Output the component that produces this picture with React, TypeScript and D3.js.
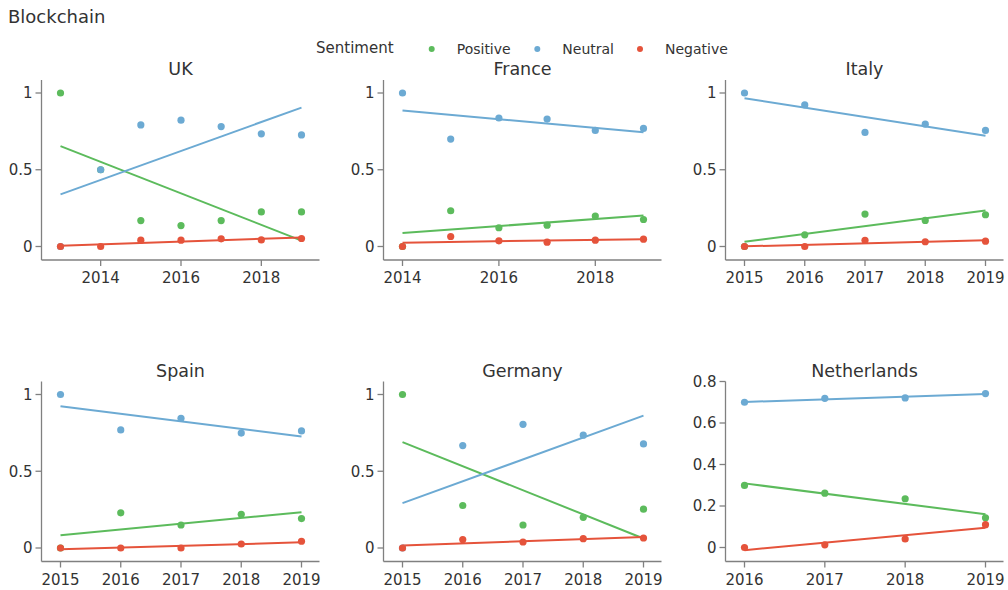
import React from 'react';
import * as d3 from 'd3';

// sentiment shares per year
const sentiments = ['Positive', 'Neutral', 'Negative'];
const sentimentColors = ['#5cbb5c', '#6caad3', '#e5533b'];

const ukYears = [2013, 2014, 2015, 2016, 2017, 2018, 2019];
const ukPositive = [1.0, 0.5, 0.169, 0.136, 0.169, 0.225, 0.225];
const ukNeutral = [0, 0.5, 0.792, 0.823, 0.781, 0.734, 0.727];
const ukNegative = [0, 0, 0.041, 0.041, 0.05, 0.043, 0.052];

const franceYears = [2014, 2015, 2016, 2017, 2018, 2019];
const francePositive = [0, 0.233, 0.122, 0.139, 0.198, 0.176];
const franceNeutral = [1.0, 0.7, 0.837, 0.83, 0.756, 0.769];
const franceNegative = [0, 0.065, 0.037, 0.028, 0.041, 0.048];

const italyYears = [2015, 2016, 2017, 2018, 2019];
const italyPositive = [0, 0.076, 0.211, 0.17, 0.207];
const italyNeutral = [1.0, 0.922, 0.743, 0.797, 0.756];
const italyNegative = [0, 0, 0.04, 0.031, 0.035];

const spainYears = [2015, 2016, 2017, 2018, 2019];
const spainPositive = [0, 0.229, 0.15, 0.22, 0.192];
const spainNeutral = [1.0, 0.769, 0.845, 0.749, 0.763];
const spainNegative = [0, 0, 0, 0.026, 0.044];

const germanyYears = [2015, 2016, 2017, 2018, 2019];
const germanyPositive = [1.0, 0.277, 0.15, 0.2, 0.253];
const germanyNeutral = [0, 0.667, 0.806, 0.735, 0.678];
const germanyNegative = [0, 0.055, 0.039, 0.061, 0.065];

const netherlandsYears = [2016, 2017, 2018, 2019];
const netherlandsPositive = [0.299, 0.262, 0.235, 0.143];
const netherlandsNeutral = [0.7, 0.719, 0.721, 0.742];
const netherlandsNegative = [0, 0.013, 0.041, 0.11];

const yTicksUnit = [0, 0.5, 1];
const yTicksNl = [0, 0.2, 0.4, 0.6, 0.8];
const xTicksEven = [2014, 2016, 2018];

interface Panel {
  name: string;
  years: number[];
  series: number[][];
  xTicks: number[];
  yTicks: number[];
  yMax: number;
}

const panels: Panel[] = [
  { name: 'UK', years: ukYears, series: [ukPositive, ukNeutral, ukNegative], xTicks: xTicksEven, yTicks: yTicksUnit, yMax: 1 },
  { name: 'France', years: franceYears, series: [francePositive, franceNeutral, franceNegative], xTicks: xTicksEven, yTicks: yTicksUnit, yMax: 1 },
  { name: 'Italy', years: italyYears, series: [italyPositive, italyNeutral, italyNegative], xTicks: italyYears, yTicks: yTicksUnit, yMax: 1 },
  { name: 'Spain', years: spainYears, series: [spainPositive, spainNeutral, spainNegative], xTicks: spainYears, yTicks: yTicksUnit, yMax: 1 },
  { name: 'Germany', years: germanyYears, series: [germanyPositive, germanyNeutral, germanyNegative], xTicks: germanyYears, yTicks: yTicksUnit, yMax: 1 },
  { name: 'Netherlands', years: netherlandsYears, series: [netherlandsPositive, netherlandsNeutral, netherlandsNegative], xTicks: netherlandsYears, yTicks: yTicksNl, yMax: 0.8 },
];

const FONT = '"DejaVu Sans", Verdana, sans-serif';
const TEXT = '#333';
const AXIS = '#808080';

const colX = [41.5, 383.5, 725.5];
const rowY = [80, 381.5];
const plotW = 278;
const plotH = 180;

// ordinary least squares, same as the trend lines in the source chart
function fit(xs: number[], ys: number[]) {
  const mx = d3.mean(xs)!;
  const my = d3.mean(ys)!;
  let num = 0;
  let den = 0;
  xs.forEach((x, i) => {
    num += (x - mx) * (ys[i] - my);
    den += (x - mx) * (x - mx);
  });
  const slope = num / den;
  return (x: number) => my + slope * (x - mx);
}

const PanelView: React.FC<{ p: Panel; x0: number; y0: number }> = ({ p, x0, y0 }) => {
  const [first, last] = d3.extent(p.years) as [number, number];
  const x = d3.scaleLinear()
    .domain([first, last])
    .range([x0 + 19, x0 + plotW - 18]);
  const topPad = p.yMax === 1 ? 13 : 0;
  const botPad = p.yMax === 1 ? 13.5 : 14;
  const y = d3.scaleLinear()
    .domain([0, p.yMax])
    .range([y0 + plotH - botPad, y0 + topPad]);
  const bottom = y0 + plotH;

  return (
    <g>
      <text x={x0 + plotW / 2} y={y0 - 5} textAnchor="middle" fontSize={17.5} fill={TEXT}>{p.name}</text>
      {/* trend lines */}
      {p.series.map((vals, si) => {
        const f = fit(p.years, vals);
        return (
          <line key={'l' + si} x1={x(first)} y1={y(f(first))} x2={x(last)} y2={y(f(last))}
            stroke={sentimentColors[si]} strokeWidth={2} />
        );
      })}
      {/* points */}
      {p.series.map((vals, si) => (
        <g key={'p' + si} fill={sentimentColors[si]}>
          {vals.map((v, i) => (
            <circle key={i} cx={x(p.years[i])} cy={y(v)} r={3.6} />
          ))}
        </g>
      ))}
      {/* axes */}
      <line x1={x0} y1={y0} x2={x0} y2={bottom} stroke={AXIS} strokeWidth={1.3} />
      <line x1={x0} y1={bottom} x2={x0 + plotW} y2={bottom} stroke={AXIS} strokeWidth={1.3} />
      {p.yTicks.map(t => (
        <g key={'y' + t}>
          <line x1={x0 - 6} x2={x0} y1={y(t)} y2={y(t)} stroke={AXIS} strokeWidth={1.3} />
          <text x={x0 - 9} y={y(t)} dy="0.35em" textAnchor="end" fontSize={15} fill={TEXT}>{d3.format('~g')(t)}</text>
        </g>
      ))}
      {p.xTicks.map(t => (
        <g key={'x' + t}>
          <line x1={x(t)} x2={x(t)} y1={bottom} y2={bottom + 6} stroke={AXIS} strokeWidth={1.3} />
          <text x={x(t)} y={bottom + 23} textAnchor="middle" fontSize={15} fill={TEXT}>{t}</text>
        </g>
      ))}
    </g>
  );
};

const legendDotX = [431.7, 537.3, 640];

export default function App() {
  return (
    <svg width={1008} height={590} style={{ position: 'absolute', left: 0, top: 0, background: '#fff' }} fontFamily={FONT}>
      <text x={8} y={23} fontSize={18} fill={TEXT}>Blockchain</text>
      <text x={316} y={53} fontSize={15} fill={TEXT}>Sentiment</text>
      {sentiments.map((s, i) => (
        <g key={s}>
          <circle cx={legendDotX[i]} cy={49} r={3} fill={sentimentColors[i]} />
          <text x={legendDotX[i] + 25} y={54} fontSize={14} fill={TEXT}>{s}</text>
        </g>
      ))}
      {panels.map((p, i) => (
        <PanelView key={p.name} p={p} x0={colX[i % 3]} y0={rowY[Math.floor(i / 3)]} />
      ))}
    </svg>
  );
}
